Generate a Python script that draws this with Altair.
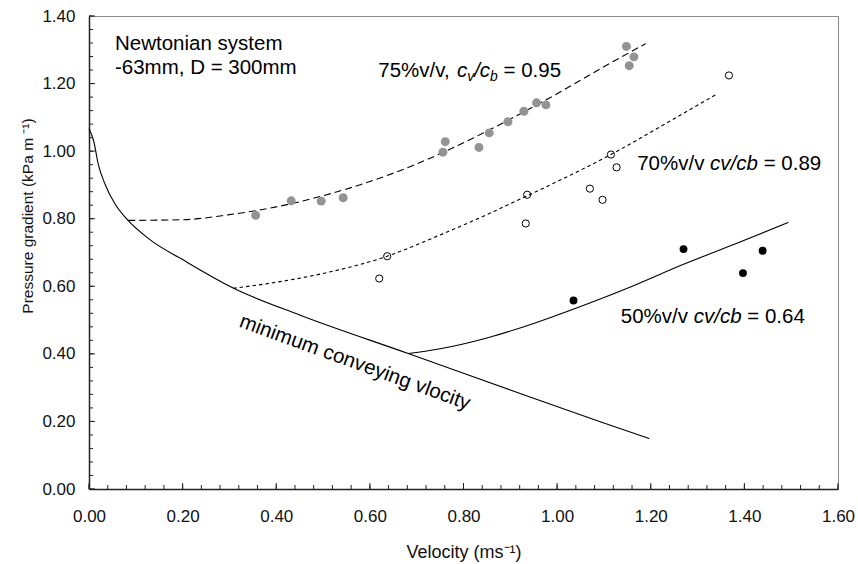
import altair as alt
import pandas as pd

FONT = "Liberation Sans"

# ---- measured points ----
V75_X = [0.356, 0.432, 0.496, 0.543, 0.756, 0.761, 0.833, 0.855, 0.895, 0.929, 0.956, 0.976, 1.148, 1.154, 1.164]
V75_Y = [0.810, 0.853, 0.852, 0.862, 0.997, 1.028, 1.011, 1.054, 1.087, 1.118, 1.143, 1.137, 1.310, 1.253, 1.279]

V70_X = [0.620, 0.637, 0.933, 0.936, 1.070, 1.097, 1.115, 1.127, 1.367]
V70_Y = [0.623, 0.689, 0.786, 0.871, 0.889, 0.856, 0.990, 0.952, 1.224]

V50_X = [1.035, 1.270, 1.397, 1.439]
V50_Y = [0.558, 0.710, 0.639, 0.705]

# ---- fitted curves ----
C75_X = [0.084, 0.20, 0.30, 0.40, 0.50, 0.60, 0.70, 0.80, 0.90, 1.00, 1.10, 1.189]
C75_Y = [0.795, 0.797, 0.812, 0.835, 0.868, 0.910, 0.962, 1.025, 1.095, 1.170, 1.250, 1.318]

C70_X = [0.308, 0.40, 0.50, 0.637, 0.75, 0.85, 0.936, 1.03, 1.115, 1.23, 1.339]
C70_Y = [0.594, 0.612, 0.638, 0.689, 0.752, 0.812, 0.868, 0.930, 0.990, 1.080, 1.167]

C50_X = [0.682, 0.75, 0.85, 0.95, 1.05, 1.15, 1.27, 1.38, 1.494]
C50_Y = [0.401, 0.415, 0.447, 0.490, 0.540, 0.594, 0.665, 0.725, 0.789]

MIN_X = [0.0, 0.010, 0.020, 0.035, 0.055, 0.080, 0.130, 0.200, 0.308, 0.450, 0.682, 0.900, 1.092, 1.197]
MIN_Y = [1.066, 1.030, 0.960, 0.900, 0.845, 0.800, 0.738, 0.679, 0.595, 0.515, 0.401, 0.293, 0.199, 0.149]

X_MAJOR = [0.0, 0.2, 0.4, 0.6, 0.8, 1.0, 1.2, 1.4, 1.6]
Y_MAJOR = [0.0, 0.2, 0.4, 0.6, 0.8, 1.0, 1.2, 1.4]
X_MINOR = [round(i * 0.04, 2) for i in range(41)]
Y_MINOR = [round(i * 0.04, 2) for i in range(36)]

W, H = 749, 473
FS = 20.5

xs = alt.Scale(domain=[0, 1.6], nice=False, zero=False)
ys = alt.Scale(domain=[0, 1.4], nice=False, zero=False)

AW = {'0': .556, '1': .556, '2': .556, '3': .556, '4': .556, '5': .556, '6': .556, '7': .556,
      '8': .556, '9': .556, '%': .889, 'v': .5, '/': .278, ',': .278, ' ': .278, 'c': .5,
      'b': .556, '=': .584, '.': .278}


def tw(s, fs):
    return sum(AW[ch] for ch in s) * fs


def df(x, y):
    return pd.DataFrame({"x": x, "y": y})


base_x = alt.X("x:Q", scale=xs, axis=alt.Axis(
    values=X_MAJOR, format=".2f", ticks=False, grid=False, labelFlush=False,
    domainColor="#222222", domainWidth=1.5,
    labelFont=FONT, labelFontSize=17, labelColor="#111111", labelPadding=19,
    title="Velocity (ms⁻¹)", titleFont=FONT, titleFontSize=18, titleFontWeight="normal",
    titleColor="#111111", titleBaseline="alphabetic", titleY=68, titleX=W / 2))
base_y = alt.Y("y:Q", scale=ys, axis=alt.Axis(
    values=Y_MAJOR, format=".2f", ticks=False, grid=False, labelFlush=False,
    domainColor="#222222", domainWidth=1.5,
    labelFont=FONT, labelFontSize=17, labelColor="#111111", labelPadding=14,
    title="Pressure gradient (kPa m ⁻¹)", titleFont=FONT, titleFontSize=15.5,
    titleFontWeight="normal", titleColor="#111111", titleAngle=270,
    titleAlign="center", titleBaseline="alphabetic", titleX=-57, titleY=199.5))


def line(x, y, dash=None):
    kw = dict(color="black", strokeWidth=1.1, interpolate="monotone")
    if dash:
        kw["strokeDash"] = dash
    return alt.Chart(df(x, y)).mark_line(**kw).encode(
        x=alt.X("x:Q", scale=xs), y=alt.Y("y:Q", scale=ys))


l_min = alt.Chart(df(MIN_X, MIN_Y)).mark_line(color="black", strokeWidth=1.1, interpolate="monotone").encode(x=base_x, y=base_y)
l75 = line(C75_X, C75_Y, [7, 4])
l70 = line(C70_X, C70_Y, [3.5, 3])
l50 = line(C50_X, C50_Y)

p75 = alt.Chart(df(V75_X, V75_Y)).mark_circle(size=80, color="#939393", opacity=1).encode(
    x=alt.X("x:Q", scale=xs), y=alt.Y("y:Q", scale=ys))
p70 = alt.Chart(df(V70_X, V70_Y)).mark_point(size=52, shape="circle", filled=False, color="black", strokeWidth=1, opacity=1).encode(
    x=alt.X("x:Q", scale=xs), y=alt.Y("y:Q", scale=ys))
p50 = alt.Chart(df(V50_X, V50_Y)).mark_circle(size=62, color="black", opacity=1).encode(
    x=alt.X("x:Q", scale=xs), y=alt.Y("y:Q", scale=ys))

# axis ticks (inward)
tx_maj = alt.Chart(pd.DataFrame({"t": X_MAJOR})).mark_rule(color="#222222", strokeWidth=1).encode(
    x=alt.X("t:Q", scale=xs), y=alt.value(H), y2=alt.value(H - 6))
tx_min = alt.Chart(pd.DataFrame({"t": X_MINOR})).mark_rule(color="#222222", strokeWidth=1).encode(
    x=alt.X("t:Q", scale=xs), y=alt.value(H), y2=alt.value(H - 4))
ty_maj = alt.Chart(pd.DataFrame({"t": Y_MAJOR})).mark_rule(color="#222222", strokeWidth=1).encode(
    y=alt.Y("t:Q", scale=ys), x=alt.value(0), x2=alt.value(6))
ty_min = alt.Chart(pd.DataFrame({"t": Y_MINOR})).mark_rule(color="#222222", strokeWidth=1).encode(
    y=alt.Y("t:Q", scale=ys), x=alt.value(0), x2=alt.value(4))

# ---- annotations ----
ANN_TXT = ["Newtonian system", "-63mm, D = 300mm"]
ANN_X = [0.0555, 0.0555]
ANN_Y = [1.298, 1.229]


def txt(x, y, s, dx=0, dy=0, italic=False, size=FS, angle=0, align="left", baseline="alphabetic"):
    # SVG drops leading blanks, so turn them into an offset
    while s.startswith(" "):
        dx += AW[" "] * size
        s = s[1:]
    kw = dict(text=s, align=align, baseline=baseline, dx=dx, dy=dy, font=FONT,
              fontSize=size, color="black")
    if italic:
        kw["fontStyle"] = "italic"
    if angle:
        kw["angle"] = angle
    return alt.Chart(pd.DataFrame({"x": [x], "y": [y]})).mark_text(**kw).encode(
        x=alt.X("x:Q", scale=xs), y=alt.Y("y:Q", scale=ys))


texts = [txt(ANN_X[i], ANN_Y[i], ANN_TXT[i]) for i in range(2)]

# 75% label with subscripts
LX75, LY75 = 0.618, 1.218
SUB = FS * 0.68
parts = []
d = 0
parts.append(txt(LX75, LY75, "75%v/v,", dx=d)); d += tw("75%v/v, ", FS)
parts.append(txt(LX75, LY75, "c", dx=d, italic=True)); d += tw("c", FS)
parts.append(txt(LX75, LY75, "v", dx=d, dy=4, italic=True, size=SUB)); d += tw("v", SUB)
parts.append(txt(LX75, LY75, "/", dx=d, italic=True)); d += tw("/", FS)
parts.append(txt(LX75, LY75, "c", dx=d, italic=True)); d += tw("c", FS)
parts.append(txt(LX75, LY75, "b", dx=d, dy=4, italic=True, size=SUB)); d += tw("b", SUB)
parts.append(txt(LX75, LY75, " = 0.95", dx=d))


def ratio_label(x, y, pre, val):
    out = []
    d = 0
    out.append(txt(x, y, pre.rstrip(), dx=d)); d += tw(pre, FS)
    out.append(txt(x, y, "cv/cb", dx=d, italic=True)); d += tw("cv/cb", FS)
    out.append(txt(x, y, val, dx=d))
    return out


parts += ratio_label(1.171, 0.943, "70%v/v ", " = 0.89")
parts += ratio_label(1.136, 0.492, "50%v/v ", " = 0.64")

mcv = txt(0.568, 0.374, "minimum conveying vlocity", angle=20, align="center", baseline="middle")

chart = alt.layer(
    l_min, l75, l70, l50, p75, p70, p50, tx_maj, tx_min, ty_maj, ty_min, *texts, *parts, mcv
).properties(
    width=W, height=H,
    autosize=alt.AutoSizeParams(type="none"),
    padding={"left": 89, "top": 16, "right": 20, "bottom": 75},
    background="white",
).configure_view(stroke="#8c8c8c", strokeWidth=1)

chart.save("out.html", embed_options={"renderer": "svg", "actions": False})
